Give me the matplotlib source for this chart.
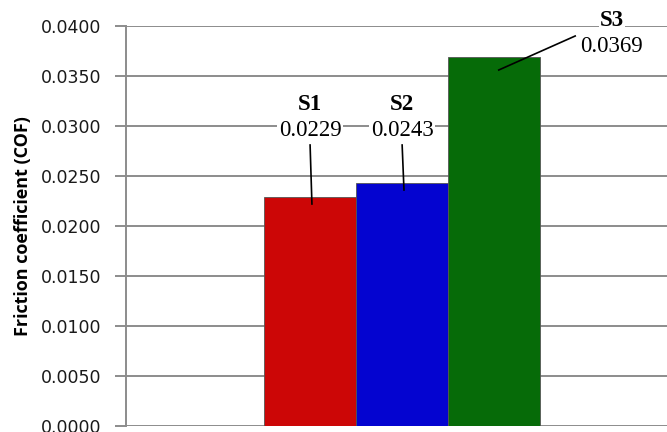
import numpy as np
import matplotlib
matplotlib.use("Agg")
import matplotlib.pyplot as plt

# data
samples = ["S1", "S2", "S3"]
cof = [0.0229, 0.0243, 0.0369]
bar_colors = ["#cc0606", "#0404d0", "#066b08"]
yticks = np.arange(0, 0.0401, 0.005)

fig = plt.figure(figsize=(6.67, 4.32), dpi=100)
ax = fig.add_axes([126 / 667, 6 / 432, 1 - 126 / 667 + 0.01, 400 / 432])

x = np.arange(len(samples))
ax.bar(x, cof, width=1.0, color=bar_colors, edgecolor="#555555", linewidth=0.6, zorder=3)

ax.set_ylim(0, 0.04)
ax.set_xlim(-2.0, 3.95)
ax.set_yticks(yticks)
ax.set_yticklabels(["%.4f" % v for v in yticks], fontsize=12.5, color="#1a1a1a")
ax.set_xticks([])
ax.grid(axis="y", color="#8c8c8c", linewidth=1.4, zorder=0)
ax.tick_params(axis="y", length=8, width=1.4, color="#8c8c8c", pad=10)
for s in ["top", "right", "bottom"]:
    ax.spines[s].set_visible(False)
ax.spines["left"].set_color("#8c8c8c")
ax.spines["left"].set_linewidth(1.4)

ax.set_ylabel("Friction coefficient (COF)", fontsize=13, fontweight="bold",
              family="Open Sans", labelpad=6)

# labels with leader lines (text position in data units)
label_pos = [(0.0, 0.0296), (1.0, 0.0296), (2.0 + 1.28, 0.0379)]
for i in range(len(samples)):
    tx, ty = label_pos[i]
    ax.text(tx, ty + 0.0026, samples[i], ha="center", va="center", fontsize=16.5,
            fontweight="bold", family="Liberation Serif", zorder=5,
            bbox=dict(facecolor="white", edgecolor="none", pad=1))
    ax.text(tx, ty, "%.4f" % cof[i], ha="center", va="center", fontsize=16.5,
            family="Liberation Serif", zorder=5,
            bbox=dict(facecolor="white", edgecolor="none", pad=1))
    if i < 2:
        ax.plot([tx, tx + 0.02], [ty - 0.0015, cof[i] - 0.0007], color="black", lw=1.2, zorder=6)
    else:
        ax.plot([tx - 0.4, x[i] + 0.05], [ty + 0.0011, cof[i] - 0.0013], color="black", lw=1.2, zorder=6)

fig.savefig("out.png", dpi=100)
